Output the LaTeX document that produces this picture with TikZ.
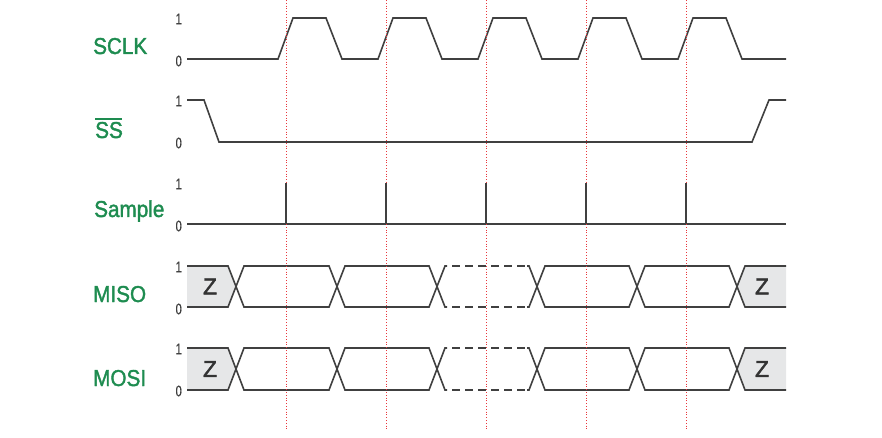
\documentclass[tikz,border=0pt]{standalone}
\usepackage{fontspec}
\setmainfont{Liberation Sans}
\newfontfamily\lblfont[FakeStretch=0.9,FakeBold=1.6]{Liberation Sans}
\newfontfamily\digfont[FakeStretch=0.72,FakeBold=0.3]{Liberation Sans}
\newfontfamily\zfont[FakeBold=1.8]{Liberation Sans}
\definecolor{sigg}{HTML}{1E8C50}
\definecolor{wave}{HTML}{404040}
\definecolor{zfill}{HTML}{E6E7E8}
\definecolor{mark}{HTML}{E8373C}
\tikzset{
  wv/.style={draw=wave, line width=1.6pt, line join=miter},
  wvdash/.style={wv, dash pattern=on 8pt off 5pt},
  redline/.style={draw=mark, line width=0.8pt, dotted},
  siglbl/.style={anchor=base west, inner sep=0pt, text=sigg, font=\lblfont\fontsize{23}{23}\selectfont},
  dig/.style={anchor=east, inner sep=0pt, text=wave, font=\digfont\fontsize{15.5}{15.5}\selectfont},
  zlbl/.style={inner sep=0pt, text=black!80, font=\zfont\fontsize{23}{23}\selectfont},
}
\begin{document}
\begin{tikzpicture}[x=1pt, y=-1pt]
\useasboundingbox (0,0) rectangle (882,438);
% signal names
\node[siglbl] (nsclk) at (93,54) {SCLK};
\node[siglbl] (nss) at (95,138) {SS};
\draw[draw=sigg, line width=1.6pt] (nss.north west) ++(0,-3) coordinate (ovl) -- ++(27,0) coordinate (ovr);
\node[siglbl] (nsample) at (94,217) {Sample};
\node[siglbl] (nmiso) at (93,302) {MISO};
\node[siglbl] (nmosi) at (93,386) {MOSI};
% level digits
\node[dig] (s1) at (182,19) {1};
\node[dig] (s0) at (182,61) {0};
\node[dig] (ss1) at (182,101) {1};
\node[dig] (ss0) at (182,143) {0};
\node[dig] (sa1) at (182,184) {1};
\node[dig] (sa0) at (182,226) {0};
\node[dig] (mi1) at (182,267) {1};
\node[dig] (mi0) at (182,309) {0};
\node[dig] (mo1) at (182,349) {1};
\node[dig] (mo0) at (182,391) {0};
% SCLK
\draw[wv] (187,59) -- (278,59)
  \foreach \k in {0,...,4} {
    -- ({278+100*\k},59) -- ({293+100*\k},18) -- ({326+100*\k},18) -- ({342+100*\k},59)
  } -- (786,59);
% SS
\draw[wv] (187,100) -- (204,100) -- (219,142) -- (752,142) -- (769,100) -- (786,100);
% Sample baseline
\draw[wv] (187,224) -- (786,224);
% MISO / MOSI buses
\foreach \t/\b/\nm in {266/307/mi, 348/390/mo} {
  \pgfmathsetmacro{\m}{(\t+\b)/2}
  \fill[zfill] (187,\t) -- (228,\t) -- (236,\m) -- (228,\b) -- (187,\b) -- cycle;
  \fill[zfill] (786,\t) -- (745,\t) -- (737,\m) -- (745,\b) -- (786,\b) -- cycle;
  \node[zlbl] (\nm zl) at (210,\m) {Z};
  \node[zlbl] (\nm zr) at (762,\m) {Z};
  \draw[wv] (187,\t) -- (228,\t) -- (244,\b) -- (329,\b) -- (345,\t) -- (429,\t) -- (445,\b) -- (447,\b);
  \draw[wv] (187,\b) -- (228,\b) -- (244,\t) -- (329,\t) -- (345,\b) -- (429,\b) -- (445,\t) -- (447,\t);
  \draw[wvdash] (452,\t) -- (529,\t);
  \draw[wvdash] (452,\b) -- (529,\b);
  \draw[wv] (527,\t) -- (529,\t) -- (545,\b) -- (629,\b) -- (645,\t) -- (729,\t) -- (745,\b) -- (786,\b);
  \draw[wv] (527,\b) -- (529,\b) -- (545,\t) -- (629,\t) -- (645,\b) -- (729,\b) -- (745,\t) -- (786,\t);
}
% sample marker lines
\foreach \k in {0,...,4} { \draw[redline] ({286+100*\k},0) -- ({286+100*\k},430); }
% sample spikes
\foreach \k in {0,...,4} { \draw[wv, line cap=butt] ({286+100*\k},224) -- ({286+100*\k},183); }
\end{tikzpicture}
\end{document}
